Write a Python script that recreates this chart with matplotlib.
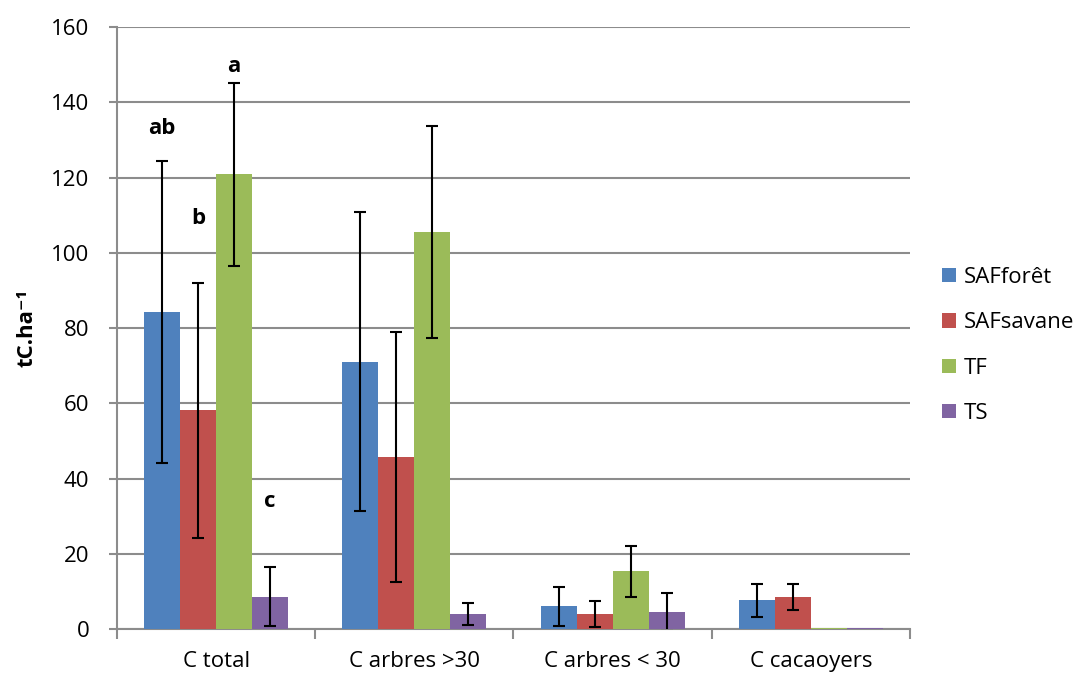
import matplotlib.pyplot as plt
import numpy as np

plt.rcParams["font.family"] = ["Open Sans", "DejaVu Sans"]

# Carbon stocks per compartment and land-use type
categories = ["C total", "C arbres >30", "C arbres < 30", "C cacaoyers"]
series = ["SAFforêt", "SAFsavane", "TF", "TS"]
colors = ["#4F81BD", "#C0504D", "#9BBB59", "#8064A2"]

saf_foret = [84.3, 71.1, 6.0, 7.6]
saf_savane = [58.1, 45.8, 4.0, 8.5]
tf = [120.8, 105.5, 15.3, 0.2]
ts = [8.6, 4.0, 4.6, 0.2]

saf_foret_err = [40.2, 39.8, 5.1, 4.5]
saf_savane_err = [33.9, 33.2, 3.5, 3.4]
tf_err = [24.4, 28.2, 6.7, 0.0]
ts_err = [7.8, 3.0, 5.0, 0.0]

values = [saf_foret, saf_savane, tf, ts]
errors = [saf_foret_err, saf_savane_err, tf_err, ts_err]

# significance letters for "C total"
letters = ["ab", "b", "a", "c"]
letter_y = [133.0, 109.0, 149.5, 34.0]

fig = plt.figure(figsize=(10.8, 6.75), dpi=100)
ax = fig.add_axes([0.1083, 0.0681, 0.7343, 0.8919])

x = np.arange(len(categories))
w = 1 / 5.5
grid_col = "#8C8C8C"

for i, (name, vals, errs, col) in enumerate(zip(series, values, errors, colors)):
    pos = x + (i - 1.5) * w
    ax.bar(pos, vals, width=w, color=col, label=name, zorder=3)
    has_err = np.array(errs) > 0
    ax.errorbar(pos[has_err], np.array(vals)[has_err], yerr=np.array(errs)[has_err],
                fmt="none", ecolor="black", elinewidth=1.5, capsize=4.5,
                capthick=1.5, zorder=4)
    ax.text(pos[0], letter_y[i], letters[i], ha="center", va="center",
            fontsize=16, fontweight="bold")

ax.set_ylim(0, 160)
ax.set_yticks(np.arange(0, 161, 20))
ax.set_xlim(-0.5, 3.5)
ax.set_xticks(x)
ax.set_xticklabels(categories, fontsize=16)
ax.set_xticks(np.arange(-0.5, 3.6, 1), minor=True)
ax.tick_params(axis="x", which="major", length=0, pad=16)
ax.tick_params(axis="x", which="minor", length=7, width=1.5, color=grid_col)
ax.tick_params(axis="y", length=6, width=1.5, color=grid_col, labelsize=16, pad=14)

ax.grid(axis="y", color=grid_col, linewidth=1.5, zorder=0)
ax.set_axisbelow(True)
for side in ["top", "right"]:
    ax.spines[side].set_visible(False)
for side in ["left", "bottom"]:
    ax.spines[side].set_color(grid_col)
    ax.spines[side].set_linewidth(1.5)

ax.set_ylabel("tC.ha⁻¹", fontsize=16, fontweight="bold")
ax.yaxis.set_label_coords(-0.1, 0.5)

fig.legend(loc="center left", bbox_to_anchor=(0.854, 0.488), frameon=False,
           fontsize=16, handlelength=0.6, handleheight=0.6, handletextpad=0.35,
           labelspacing=1.1)

fig.savefig("out.png", dpi=100)
